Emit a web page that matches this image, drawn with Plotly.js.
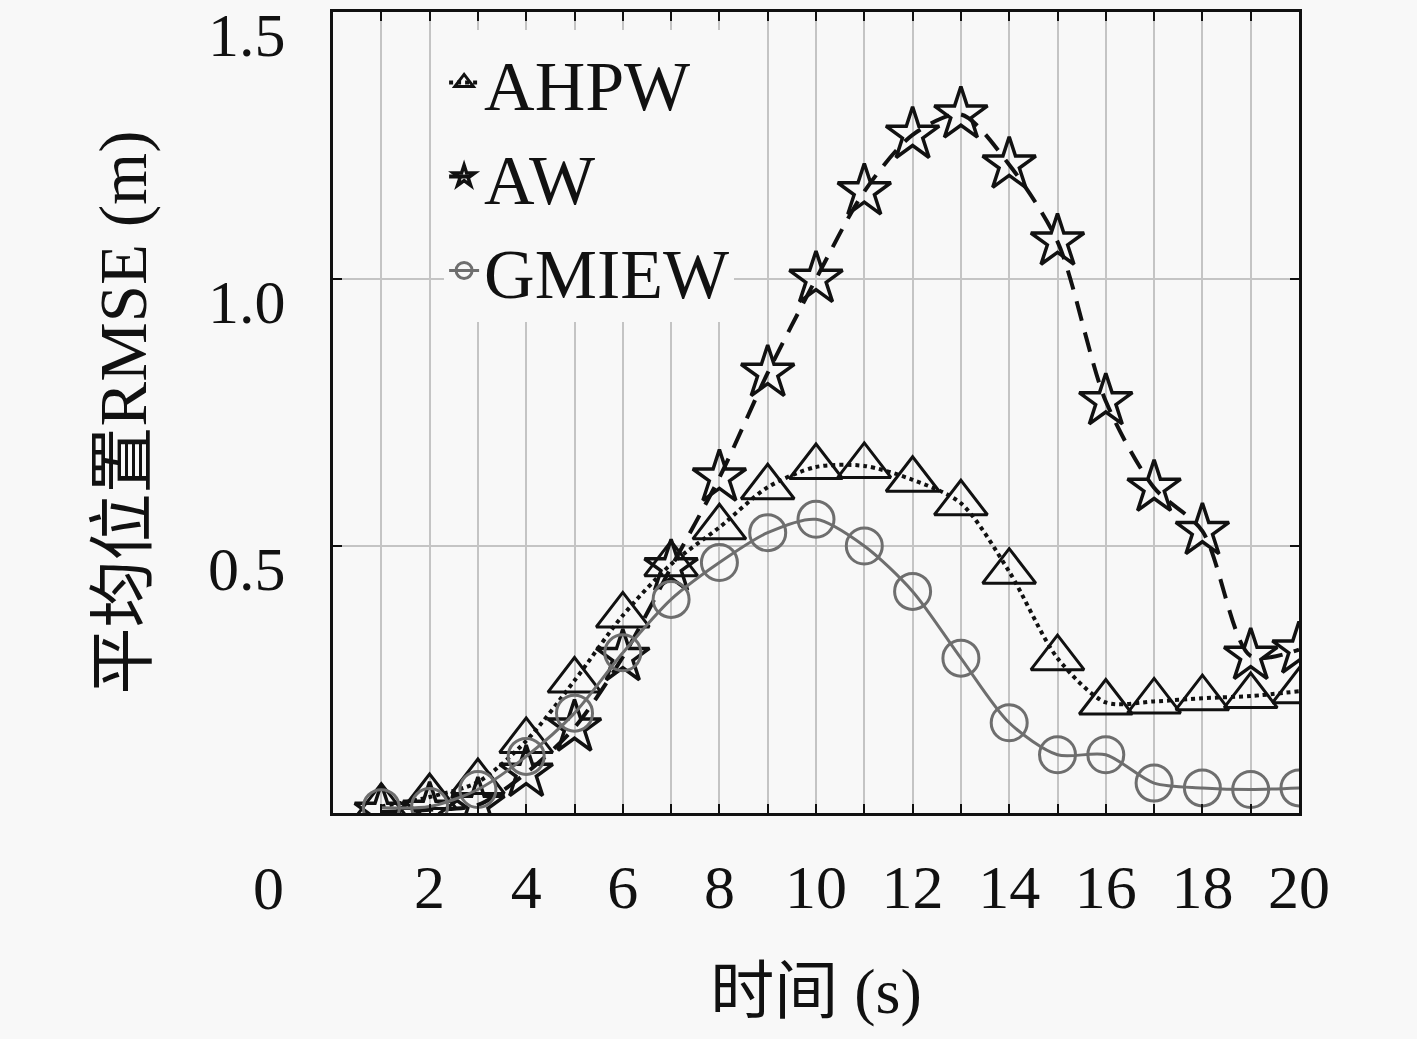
<!DOCTYPE html>
<html>
<head>
<meta charset="utf-8">
<script src="https://cdn.plot.ly/plotly-3.0.1.min.js"></script>
<style>
  html, body { margin: 0; padding: 0; background: #f8f8f8; }
  #chart { width: 1417px; height: 1039px; }
</style>
</head>
<body>
<div id="chart"></div>
<script>
// time steps (s)
const steps = [1, 2, 3, 4, 5, 6, 7, 8, 9, 10, 11, 12, 13, 14, 15, 16, 17, 18, 19, 20]

// average position RMSE (m)
const ahpw = [0.012, 0.03, 0.058, 0.135, 0.248, 0.37, 0.466, 0.535, 0.61, 0.648,
    0.65, 0.624, 0.58, 0.452, 0.29, 0.207, 0.209, 0.215, 0.219, 0.228]
const aw = [0.002, 0.006, 0.015, 0.075, 0.16, 0.292, 0.46, 0.628, 0.824, 1.0,
    1.164, 1.27, 1.308, 1.214, 1.07, 0.771, 0.609, 0.528, 0.294, 0.306]
const gmiew = [0.01, 0.012, 0.044, 0.106, 0.187, 0.3, 0.4, 0.469, 0.525, 0.55,
    0.5, 0.415, 0.29, 0.169, 0.109, 0.109, 0.056, 0.047, 0.044, 0.047]

const xTickVals = steps
const xTickText = steps.map(s => (s % 2 === 0 ? String(s) : ''))
const yTickVals = [0.5, 1.0, 1.5]
const yTickText = ['0.5', '1.0', '1.5']

const bg = '#f8f8f8'
const serif = 'Liberation Serif, DejaVu Serif, Noto Sans CJK SC, serif'

const traceAhpw = {
    x: steps,
    y: ahpw,
    name: 'AHPW',
    type: 'scatter',
    mode: 'lines+markers',
    line: { color: '#111', width: 4, dash: 'dot', shape: 'spline', smoothing: 0.8 },
    marker: { symbol: 'triangle-up-open', size: 46, color: '#111', line: { width: 3, color: '#111' } },
}

const traceAw = {
    x: steps,
    y: aw,
    name: 'AW',
    type: 'scatter',
    mode: 'lines+markers',
    line: { color: '#111', width: 4, dash: '20px,12px', shape: 'spline', smoothing: 0.8 },
    marker: { symbol: 'star-open', size: 40, color: '#111', line: { width: 3.5, color: '#111' } },
}

const traceGmiew = {
    x: steps,
    y: gmiew,
    name: 'GMIEW',
    type: 'scatter',
    mode: 'lines+markers',
    line: { color: '#6e6e6e', width: 3, shape: 'spline', smoothing: 0.8 },
    marker: { symbol: 'circle-open', size: 36, color: '#6e6e6e', line: { width: 3, color: '#6e6e6e' } },
}

const layout = {
    width: 1417,
    height: 1039,
    paper_bgcolor: bg,
    plot_bgcolor: bg,
    margin: { l: 333, r: 118, t: 12, b: 226 },
    font: { family: serif, size: 62, color: '#111' },
    showlegend: true,
    legend: {
        x: 0.115, y: 0.977, xanchor: 'left', yanchor: 'top',
        bgcolor: bg, borderwidth: 0,
        font: { family: serif, size: 70, color: '#111' },
        itemwidth: 30,
    },
    xaxis: {
        range: [0, 20],
        tickvals: xTickVals,
        ticktext: xTickText,
        ticks: 'inside',
        ticklen: 9,
        tickwidth: 2,
        tickcolor: '#111',
        ticklabelstandoff: 18,
        showgrid: true,
        gridcolor: '#c4c4c4',
        gridwidth: 2,
        zeroline: false,
        showline: true,
        linecolor: '#111',
        linewidth: 3,
        mirror: 'ticks',
        title: { text: '时间 (s)', font: { family: serif, size: 64 }, standoff: 48 },
    },
    yaxis: {
        range: [0, 1.5],
        tickvals: yTickVals,
        ticktext: yTickText,
        ticks: 'inside',
        ticklen: 9,
        tickwidth: 2,
        tickcolor: '#111',
        ticklabelstandoff: 32,
        ticklabelshift: 22,
        ticklabeloverflow: 'allow',
        showgrid: true,
        gridcolor: '#c4c4c4',
        gridwidth: 2,
        zeroline: false,
        showline: true,
        linecolor: '#111',
        linewidth: 3,
        mirror: 'ticks',
        title: { text: '平均位置RMSE (m)', font: { family: serif, size: 67 }, standoff: 40 },
    },
    annotations: [{
        text: '0', xref: 'paper', yref: 'paper', x: -0.067, y: -0.094,
        xanchor: 'center', yanchor: 'middle',
        showarrow: false, font: { family: serif, size: 62, color: '#111' },
    }],
}

const config = {
    displayModeBar: false,
    staticPlot: true,
}

Plotly.newPlot('chart', [traceAhpw, traceAw, traceGmiew], layout, config)
</script>
</body>
</html>
